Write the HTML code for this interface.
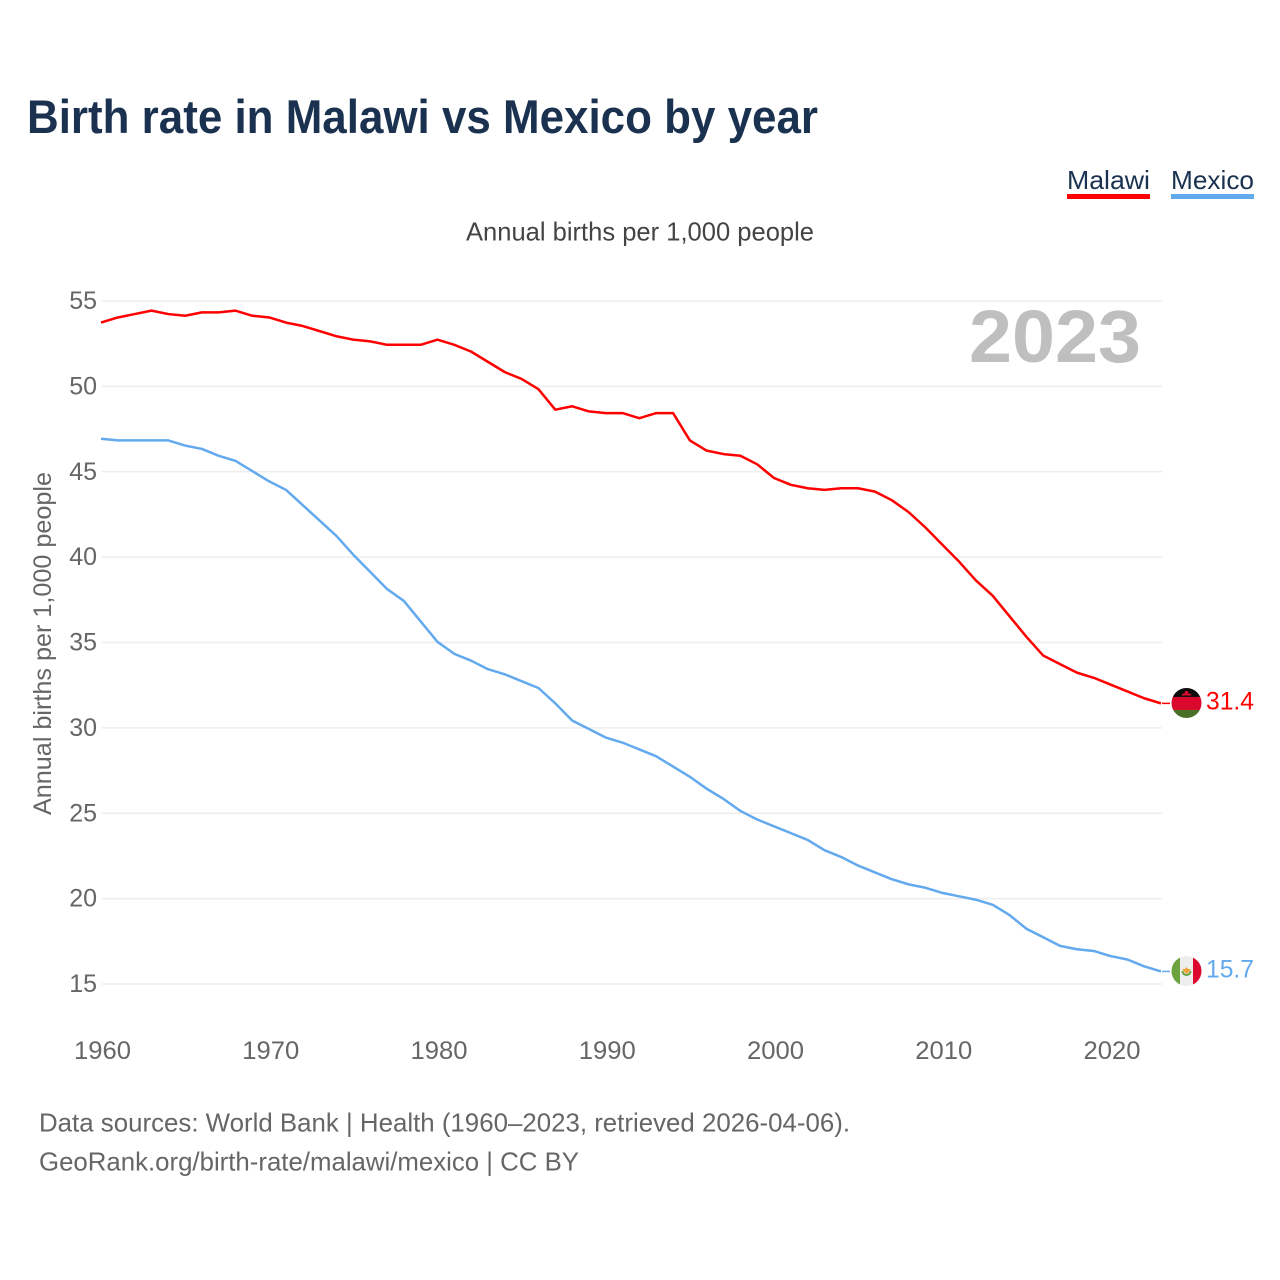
<!DOCTYPE html>
<html>
<head>
<meta charset="utf-8">
<title>Birth rate in Malawi vs Mexico by year</title>
<style>
html,body{margin:0;padding:0;background:#fff;}
svg{display:block;}
text{font-family:"Liberation Sans",sans-serif;}
</style>
</head>
<body>
<svg id="chart" width="1280" height="1280" viewBox="0 0 1280 1280" xmlns="http://www.w3.org/2000/svg">
<defs>
<clipPath id="flag-clip"><circle cx="0" cy="0" r="15"></circle></clipPath>
</defs>
<rect x="0" y="0" width="1280" height="1280" fill="#ffffff"></rect>
<text x="27" y="133" font-size="47" font-weight="700" fill="#1a3250" textLength="791" lengthAdjust="spacingAndGlyphs">Birth rate in Malawi vs Mexico by year</text>
<text x="1067" y="189" font-size="26" fill="#1a3250" textLength="83" lengthAdjust="spacingAndGlyphs">Malawi</text>
<rect x="1067" y="194" width="83" height="5" fill="#ff0000"></rect>
<text x="1171" y="189" font-size="26" fill="#1a3250" textLength="83" lengthAdjust="spacingAndGlyphs">Mexico</text>
<rect x="1171" y="194" width="83" height="5" fill="#63a9ee"></rect>
<text x="466" y="240.5" font-size="26" fill="#444444" textLength="348" lengthAdjust="spacingAndGlyphs">Annual births per 1,000 people</text>
<g id="grid"></g>
<g id="y-ticks"></g>
<g id="x-ticks"></g>
<text x="969" y="362" font-size="74" font-weight="700" fill="#bfbfbf" textLength="172" lengthAdjust="spacingAndGlyphs">2023</text>
<text transform="translate(51 815) rotate(-90)" x="0" y="0" font-size="25" fill="#666666" textLength="343" lengthAdjust="spacingAndGlyphs">Annual births per 1,000 people</text>
<g id="series" transform="translate(-1 -0.6)"></g>
<g id="flag-malawi" clip-path="url(#flag-clip)">
<rect x="-15" y="-15" width="30" height="9" fill="#0a0a0a"></rect>
<rect x="-15" y="-6" width="30" height="13" fill="#d9082c"></rect>
<rect x="-15" y="7" width="30" height="8" fill="#4a7028"></rect>
<path d="M-5 -7.5 L-4 -9.5 L-2 -9.5 L-1.5 -12 L1.5 -12 L2 -9.5 L4 -9.5 L5 -7.5 Z" fill="#d9082c"></path>
</g>
<g id="flag-mexico" clip-path="url(#flag-clip)">
<rect x="-15" y="-15" width="8.5" height="30" fill="#6da33f"></rect>
<rect x="-6.5" y="-15" width="13" height="30" fill="#eeeeee"></rect>
<rect x="6.5" y="-15" width="8.5" height="30" fill="#dd0a30"></rect>
<path d="M-5 0 A5 5 0 0 0 5 0 L3 0 A3 3 0 0 1 -3 0 Z" fill="#6da33f"></path>
<path d="M-4.5 -2 L-1.5 -2 L0 -4 L1.5 -2 L4.5 -2 L2 1 L0 3 L-2 1 Z" fill="#f0a030"></path>
</g>
<g id="values"></g>
<text x="39" y="1131.5" font-size="26" fill="#666666" textLength="811" lengthAdjust="spacingAndGlyphs">Data sources: World Bank | Health (1960–2023, retrieved 2026-04-06).</text>
<text x="39" y="1170.5" font-size="26" fill="#666666" textLength="540" lengthAdjust="spacingAndGlyphs">GeoRank.org/birth-rate/malawi/mexico | CC BY</text>
</svg>
<script>
var startYear = 1960;
var malawiValues = [53.7,54.0,54.2,54.4,54.2,54.1,54.3,54.3,54.4,54.1,54.0,53.7,53.5,53.2,52.9,52.7,52.6,52.4,52.4,52.4,52.7,52.4,52.0,51.4,50.8,50.4,49.8,48.6,48.8,48.5,48.4,48.4,48.1,48.4,48.4,46.8,46.2,46.0,45.9,45.4,44.6,44.2,44.0,43.9,44.0,44.0,43.8,43.3,42.6,41.7,40.7,39.7,38.6,37.7,36.5,35.3,34.2,33.7,33.2,32.9,32.5,32.1,31.7,31.4];
var mexicoValues = [46.9,46.8,46.8,46.8,46.8,46.5,46.3,45.9,45.6,45.0,44.4,43.9,43.0,42.1,41.2,40.1,39.1,38.1,37.4,36.2,35.0,34.3,33.9,33.4,33.1,32.7,32.3,31.4,30.4,29.9,29.4,29.1,28.7,28.3,27.7,27.1,26.4,25.8,25.1,24.6,24.2,23.8,23.4,22.8,22.4,21.9,21.5,21.1,20.8,20.6,20.3,20.1,19.9,19.6,19.0,18.2,17.7,17.2,17.0,16.9,16.6,16.4,16.0,15.7];
var yTicks = [15,20,25,30,35,40,45,50,55];
var xTicks = [1960,1970,1980,1990,2000,2010,2020];
var malawiColor = '#ff0000';
var mexicoColor = '#63a9ee';
var NS = 'http://www.w3.org/2000/svg';

function xScale(year) { return 102 + (year - 1960) * (1162 - 102) / 63; }
function yScale(v) { return 984 - (v - 15) * (984 - 301) / 40; }

var grid = document.getElementById('grid');
var yTickGroup = document.getElementById('y-ticks');
yTicks.forEach(function (t) {
  var line = document.createElementNS(NS, 'line');
  
  
  line.setAttribute('x1', 102);
  line.setAttribute('x2', 1162);
  line.setAttribute('y1', yScale(t));
  line.setAttribute('y2', yScale(t));
  line.setAttribute('stroke', '#eeeeee');
  line.setAttribute('stroke-width', '1.5');
  grid.appendChild(line);

  var label = document.createElementNS(NS, 'text');
  
  
  label.setAttribute('x', 97);
  label.setAttribute('y', yScale(t) + 8);
  label.setAttribute('text-anchor', 'end');
  label.setAttribute('font-size', '25');
  label.setAttribute('fill', '#666666');
  label.textContent = t;
  yTickGroup.appendChild(label);
});

var xTickGroup = document.getElementById('x-ticks');
xTicks.forEach(function (t) {
  var label = document.createElementNS(NS, 'text');
  
  
  label.setAttribute('x', xScale(t) + 0.5);
  label.setAttribute('y', 1059);
  label.setAttribute('text-anchor', 'middle');
  label.setAttribute('font-size', '25');
  label.setAttribute('fill', '#666666');
  label.setAttribute('textLength', '57');
  label.setAttribute('lengthAdjust', 'spacingAndGlyphs');
  label.textContent = t;
  xTickGroup.appendChild(label);
});

var seriesGroup = document.getElementById('series');
var valueGroup = document.getElementById('values');

function drawSeries(name, values, color, flagId) {
  var pts = values.map(function (v, i) {
    return xScale(startYear + i).toFixed(2) + ',' + yScale(v).toFixed(2);
  }).join(' ');
  var poly = document.createElementNS(NS, 'polyline');
  
  
  poly.setAttribute('points', pts);
  poly.setAttribute('fill', 'none');
  poly.setAttribute('stroke', color);
  poly.setAttribute('stroke-width', '2.5');
  poly.setAttribute('stroke-linejoin', 'round');
  seriesGroup.appendChild(poly);

  var last = values[values.length - 1];
  var lastX = xScale(startYear + values.length - 1);
  var lastY = yScale(last);

  var stub = document.createElementNS(NS, 'line');
  
  
  stub.setAttribute('x1', lastX + 1);
  stub.setAttribute('x2', lastX + 9);
  stub.setAttribute('y1', lastY);
  stub.setAttribute('y2', lastY);
  stub.setAttribute('stroke', color);
  stub.setAttribute('stroke-width', '1.5');
  seriesGroup.appendChild(stub);

  document.getElementById(flagId).setAttribute('transform', 'translate(1186.5 ' + (lastY - 1) + ')');

  var label = document.createElementNS(NS, 'text');
  
  
  label.setAttribute('x', 1206);
  label.setAttribute('y', lastY + 5.5);
  label.setAttribute('font-size', '25');
  label.setAttribute('fill', color);
  label.setAttribute('textLength', '48');
  label.setAttribute('lengthAdjust', 'spacingAndGlyphs');
  label.textContent = last.toFixed(1);
  valueGroup.appendChild(label);
}

drawSeries('malawi', malawiValues, malawiColor, 'flag-malawi');
drawSeries('mexico', mexicoValues, mexicoColor, 'flag-mexico');
</script>
</body>
</html>
